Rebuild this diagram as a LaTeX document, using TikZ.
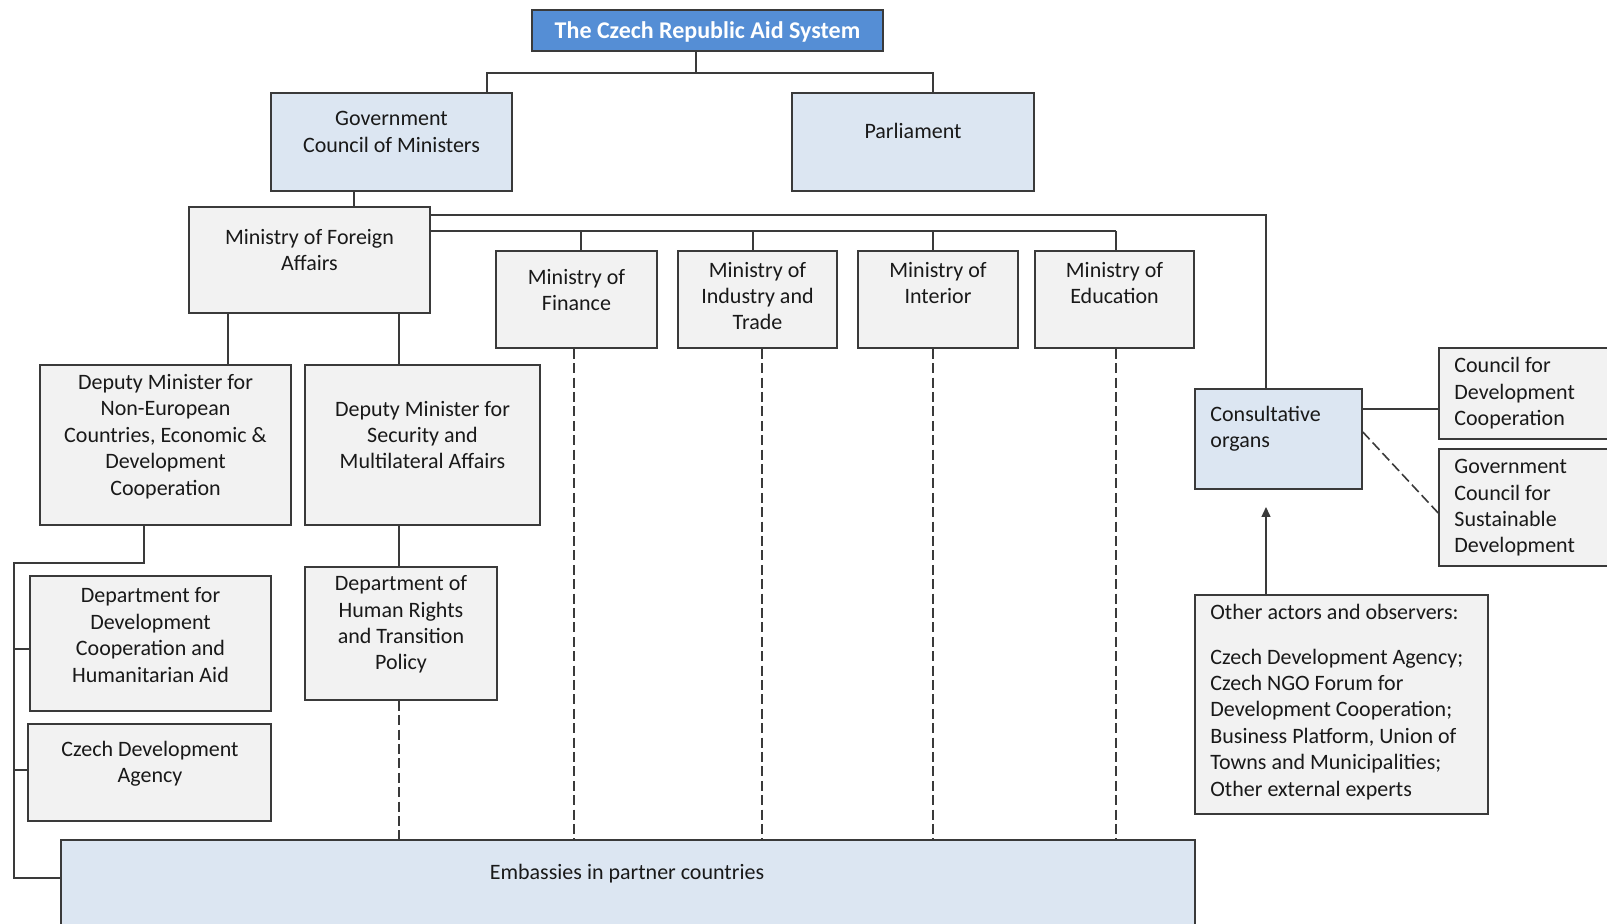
\documentclass[tikz,border=0pt]{standalone}
\usepackage{fontspec}
\setmainfont{Carlito}
\usepackage{tikz}
\usetikzlibrary{fit, arrows.meta}
\definecolor{titleblue}{HTML}{558ED5}
\definecolor{paleblue}{HTML}{DCE6F2}
\definecolor{palegrey}{HTML}{F2F2F2}
\definecolor{inkgrey}{HTML}{3A3A3A}
\tikzstyle{box} = [draw=inkgrey, line width=0.8pt, inner sep=0pt]
\tikzstyle{greybox} = [box, fill=palegrey]
\tikzstyle{bluebox} = [box, fill=paleblue]
\tikzstyle{txt} = [align=center, text=black!90, font=\fontsize{11}{13.2}\selectfont, inner sep=0pt]
\tikzstyle{ltxt} = [txt, align=left, anchor=west]
\tikzstyle{link} = [draw=inkgrey, line width=0.7pt]
\tikzstyle{dlink} = [link, line width=0.8pt, dash pattern=on 5pt off 2.2pt]
\tikzstyle{arrow} = [link, -{Triangle[length=5pt,width=4.5pt]}]

\begin{document}
\begin{tikzpicture}[x=0.5pt, y=-0.5pt]
	\useasboundingbox (0,0) rectangle (1607,924);

	% Top level
	\node[box, fill=titleblue, fit={(532,10) (883,51)}] (title) {};
	\node[txt, text=white, font=\fontsize{12}{14}\selectfont\bfseries] (title-t) at (707.5,31.5) {The Czech Republic Aid System};
	\node[bluebox, fit={(271,93) (512,191)}] (gov) {};
	\node[txt] (gov-t) at (391.5,132) {Government\\Council of Ministers};
	\node[bluebox, fit={(792,93) (1034,191)}] (parl) {};
	\node[txt] (parl-t) at (913,131) {Parliament};

	% Ministries
	\node[greybox, fit={(189,207) (430,313)}] (mfa) {};
	\node[txt] (mfa-t) at (309.5,250) {Ministry of Foreign\\Affairs};
	\node[greybox, fit={(496,251) (657,348)}] (fin) {};
	\node[txt] (fin-t) at (576.5,290) {Ministry of\\Finance};
	\node[greybox, fit={(678,251) (837,348)}] (ind) {};
	\node[txt] (ind-t) at (757.5,296) {Ministry of\\Industry and\\Trade};
	\node[greybox, fit={(858,251) (1018,348)}] (int) {};
	\node[txt] (int-t) at (938,283) {Ministry of\\Interior};
	\node[greybox, fit={(1035,251) (1194,348)}] (edu) {};
	\node[txt] (edu-t) at (1114.5,283) {Ministry of\\Education};

	% Under the MFA
	\node[greybox, fit={(40,365) (291,525)}] (dep1) {};
	\node[txt] (dep1-t) at (165.5,436.5) {Deputy Minister for\\Non-European\\Countries, Economic \&\\Development\\Cooperation};
	\node[greybox, fit={(305,365) (540,525)}] (dep2) {};
	\node[txt] (dep2-t) at (422.5,435) {Deputy Minister for\\Security and\\Multilateral Affairs};
	\node[greybox, fit={(30,576) (271,711)}] (ddc) {};
	\node[txt] (ddc-t) at (150.5,635) {Department for\\Development\\Cooperation and\\Humanitarian Aid};
	\node[greybox, fit={(28,724) (271,821)}] (cda) {};
	\node[txt] (cda-t) at (150,764) {Czech Development\\Agency};
	\node[greybox, fit={(305,567) (497,700)}] (dhr) {};
	\node[txt] (dhr-t) at (401,624.5) {Department of\\Human Rights\\and Transition\\Policy};
	\node[bluebox, fit={(61,840) (1195,935)}] (emb) {};
	\node[txt] (emb-t) at (627,874) {Embassies in partner countries};

	% Consultative side
	\node[bluebox, fit={(1195,389) (1362,489)}] (co) {};
	\node[ltxt] (co-t) at (1210,429) {Consultative\\organs};
	\node[greybox, fit={(1439,348) (1615,439)}] (cdc) {};
	\node[ltxt] (cdc-t) at (1454,393.5) {Council for\\Development\\Cooperation};
	\node[greybox, fit={(1439,449) (1615,566)}] (gcsd) {};
	\node[ltxt] (gcsd-t) at (1454,508) {Government\\Council for\\Sustainable\\Development};
	\node[greybox, fit={(1195,595) (1488,814)}] (oth) {};
	\node[ltxt] (oth-t) at (1210,702) {Other actors and observers:\\[9pt]Czech Development Agency;\\Czech NGO Forum for\\Development Cooperation;\\Business Platform, Union of\\Towns and Municipalities;\\Other external experts};

	% Junctions
	\coordinate (jtop) at (696,73);
	\coordinate (jgov) at (487,73);
	\coordinate (jparl) at (933,73);
	\coordinate (jco) at (1266,215);
	\coordinate (jmin) at (1116,231);
	\coordinate (tip) at (1266,507);

	% Connectors
	\draw[link] (title.south -| jtop) -- (jtop);
	\draw[link] (gov.north -| jgov) -- (jgov) -- (jparl) -- (parl.north -| jparl);
	\draw[link] (gov.south -| 354,0) -- (mfa.north -| 354,0);
	\draw[link] (mfa.east |- jco) -- (jco) -- (co.north -| jco);
	\draw[link] (mfa.east |- jmin) -- (jmin);
	\foreach \m/\a/\b in {fin/581/574, ind/753/762, int/933/933, edu/1116/1116}{
		\draw[link] (\a,231) -- (\m.north -| \a,0);
		\draw[dlink] (\m.south -| \b,0) -- (emb.north -| \b,0);
	}
	\draw[link] (mfa.south -| 228,0) -- (dep1.north -| 228,0);
	\draw[link] (mfa.south -| 399,0) -- (dep2.north -| 399,0);
	\draw[link] (dep2.south -| 399,0) -- (dhr.north -| 399,0);
	\draw[dlink] (dhr.south -| 399,0) -- (emb.north -| 399,0);
	\draw[link] (dep1.south -| 144,0) -- (144,563) -- (14,563) -- (14,878) -- (emb.west |- 0,878);
	\draw[link] (14,649) -- (ddc.west |- 0,649);
	\draw[link] (14,770) -- (cda.west |- 0,770);
	\draw[link] (co.east |- 0,409) -- (cdc.west |- 0,409);
	\draw[dlink] (co.east |- 0,432) -- (gcsd.west |- 0,513);
	\draw[arrow] (oth.north -| tip) -- (tip);
\end{tikzpicture}
\end{document}
